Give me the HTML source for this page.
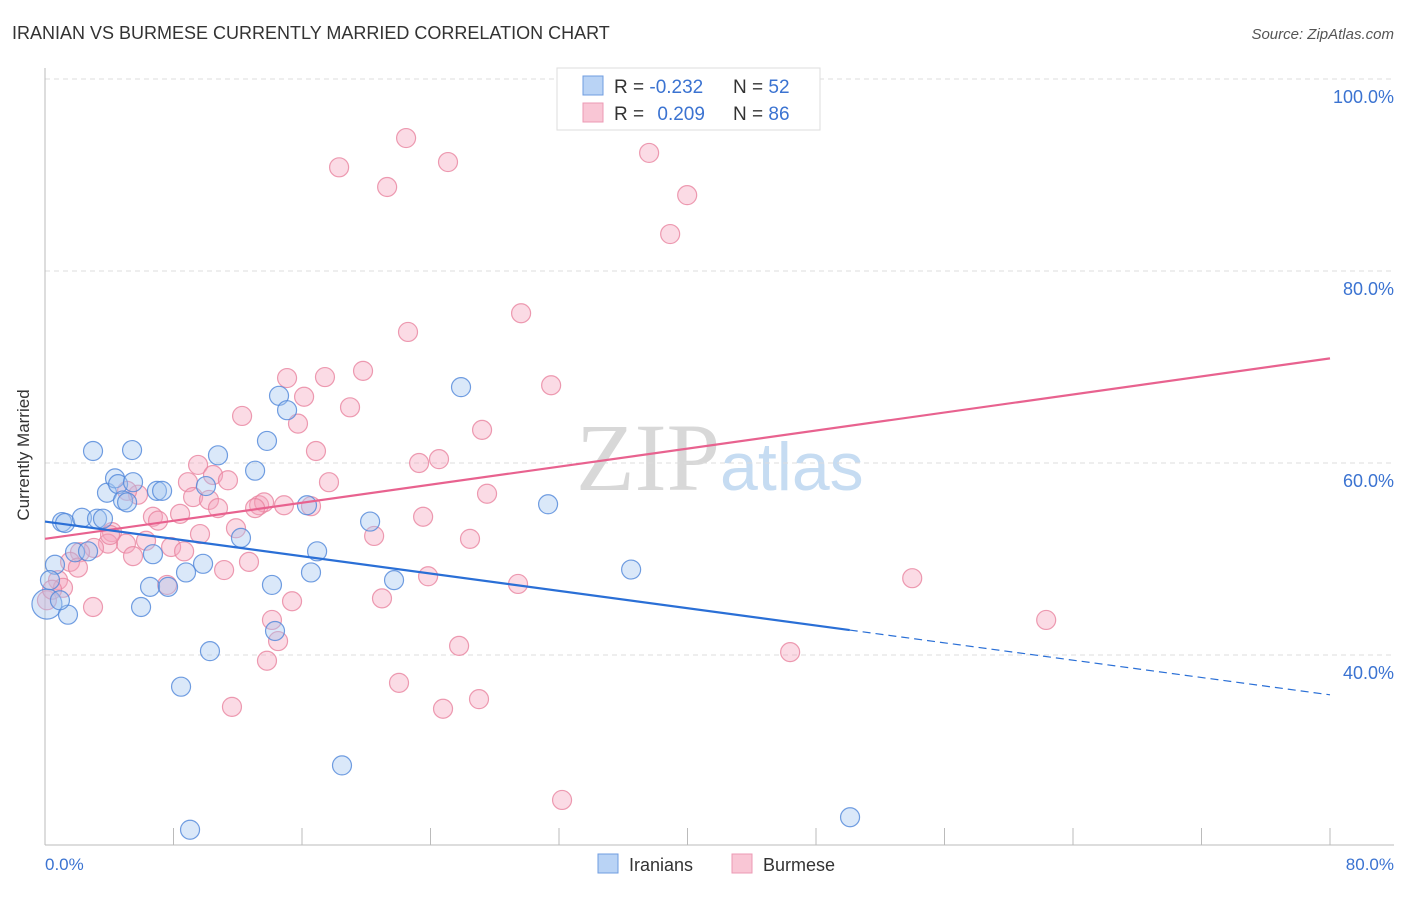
<!DOCTYPE html>
<html><head><meta charset="utf-8"><style>
body{margin:0;background:#fff;font-family:"Liberation Sans",sans-serif}
</style></head><body>
<svg id="chart" width="1406" height="892">
<text x="12" y="39" font-size="18" fill="#333">IRANIAN VS BURMESE CURRENTLY MARRIED CORRELATION CHART</text>
<text x="1394" y="39" font-size="15" fill="#555" font-style="italic" text-anchor="end">Source: ZipAtlas.com</text>
<text x="720" y="490" font-size="96" fill="#d8d8d8" text-anchor="end" font-family="Liberation Serif,serif">ZIP</text>
<text x="720" y="490" font-size="68" fill="#c6dcf2">atlas</text>
<g id="grid"></g><g id="axes"></g><g id="marks"></g>
<text x="29" y="455" font-size="17" fill="#333" transform="rotate(-90 29 455)" text-anchor="middle">Currently Married</text>
<text x="45" y="870" font-size="17" fill="#3b73d1">0.0%</text>
<text x="1394" y="870" font-size="17" fill="#3b73d1" text-anchor="end">80.0%</text>
<g>
<rect x="557" y="68" width="263" height="62" fill="#fff" stroke="#ddd"/>
<rect x="583" y="76" width="20" height="19" fill="#b9d3f5" stroke="#6f9de0"/>
<rect x="583" y="103" width="20" height="19" fill="#f9c6d5" stroke="#ec9ab4"/>
<text x="614" y="93" font-size="19" fill="#333">R = <tspan fill="#3b73d1">-0.232</tspan></text>
<text x="733" y="93" font-size="19" fill="#333">N = <tspan fill="#3b73d1">52</tspan></text>
<text x="614" y="120" font-size="19" fill="#333">R = <tspan fill="#3b73d1" dx="8">0.209</tspan></text>
<text x="733" y="120" font-size="19" fill="#333">N = <tspan fill="#3b73d1">86</tspan></text>
</g>
<g>
<rect x="598" y="854" width="20" height="19" fill="#b9d3f5" stroke="#6f9de0"/>
<text x="629" y="871" font-size="18" fill="#333">Iranians</text>
<rect x="732" y="854" width="20" height="19" fill="#f9c6d5" stroke="#ec9ab4"/>
<text x="763" y="871" font-size="18" fill="#333">Burmese</text>
</g>
</svg>
<script>
const yTicks=[40,60,80,100];
const yTickLabels=["40.0%","60.0%","80.0%","100.0%"];
const xTicks=[0,8,16,24,32,40,48,56,64,72,80];
const blueX=[2.99,5.42,0.12,0.62,1.06,1.43,1.25,1.87,2.30,2.68,3.24,3.61,3.86,4.36,4.55,4.86,5.11,5.48,6.97,7.29,6.72,6.54,5.98,7.66,8.78,8.47,9.03,9.84,10.27,10.02,10.77,12.2,13.08,13.82,14.57,15.07,14.13,14.32,16.31,16.56,16.94,18.49,20.24,21.73,25.9,31.32,36.49,50.12,0.31,0.93];
const blueY=[61.25,61.35,45.3,49.4,53.85,44.2,53.75,50.7,54.3,50.8,54.2,54.2,56.9,58.4,57.8,56.1,55.9,58.0,57.1,57.1,50.5,47.1,45.0,47.1,48.6,36.7,21.8,49.5,40.4,57.6,60.8,52.2,59.2,62.3,67.0,65.5,47.3,42.5,55.6,48.6,50.8,28.5,53.9,47.8,67.9,55.7,48.9,23.1,47.8,45.7];
const pinkX=[22.48,25.09,18.31,21.3,37.61,39.98,38.92,29.64,22.6,19.8,15.07,17.43,31.51,18.99,16.13,12.27,15.75,27.21,16.87,24.53,23.29,9.53,10.46,8.9,11.39,17.68,27.52,9.22,10.21,10.77,11.89,13.33,13.64,14.88,16.56,5.79,5.11,6.72,7.04,8.41,23.54,20.49,26.46,4.17,5.04,6.29,7.85,8.66,5.48,3.92,3.05,2.18,1.56,2.05,0.81,1.12,0.12,0.44,2.99,7.6,11.15,12.7,20.98,15.38,23.85,29.45,53.99,62.33,14.13,14.51,25.78,46.39,13.82,22.04,27.02,24.78,11.64,32.19,9.65,4.05,13.08];
const pinkY=[93.85,91.35,90.8,88.75,92.3,87.9,83.85,75.6,73.65,69.6,68.85,68.95,68.1,65.8,66.9,64.9,64.1,63.45,61.25,60.4,60.0,59.8,58.75,58.0,58.2,58.0,56.8,56.45,56.15,55.3,53.2,55.6,55.9,55.6,55.5,56.7,57.1,54.4,54.0,54.7,54.4,52.4,52.1,52.8,51.6,51.9,51.25,50.8,50.3,51.6,51.15,50.7,49.7,49.1,47.8,47.0,45.7,46.8,45.0,47.3,48.85,49.7,45.9,45.6,48.2,47.4,48.0,43.65,43.65,41.45,40.95,40.3,39.4,37.1,35.4,34.4,34.6,24.9,52.6,52.5,55.3];
const blueTrend=[53.9,-0.2256];
const pinkTrend=[52.1,0.235];
const blueSolidEnd=50.1;

const NS="http://www.w3.org/2000/svg";
const sx=v=>45+v*(1285/80);
const sy=v=>79+(100-v)*9.6;
function mk(tag,attrs,parent){const e=document.createElementNS(NS,tag);for(const k in attrs)e.setAttribute(k,attrs[k]);parent.appendChild(e);return e;}
const grid=document.getElementById('grid'),axes=document.getElementById('axes'),marks=document.getElementById('marks');
yTicks.forEach((t,i)=>{
 const l=mk('line',{x1:45,x2:1394,y1:sy(t),y2:sy(t),stroke:'#ddd','stroke-dasharray':'5,4'},grid);
 
 
 const tx=mk('text',{x:1394,y:sy(t)+24,'font-size':18,fill:'#3b73d1','text-anchor':'end'},grid);
 tx.textContent=yTickLabels[i];
 
 
});
const ax=mk('line',{x1:45,x2:45,y1:68,y2:845,stroke:'#bbb'},axes);


const bx=mk('line',{x1:45,x2:1394,y1:845,y2:845,stroke:'#bbb'},axes);


xTicks.forEach(t=>{
 const l=mk('line',{x1:sx(t),x2:sx(t),y1:828,y2:845,stroke:'#bbb'},axes);
 
 
});
function dots(xs,ys,fill,stroke,name){
 xs.forEach((x,i)=>{
  const c=mk('circle',{cx:sx(x),cy:sy(ys[i]),r:(i===2&&name==='iranian-point')?15:9.5,fill:fill,'fill-opacity':0.4,stroke:stroke,'stroke-opacity':0.8,'stroke-width':1.2},marks);
  
  
 });
}
dots(pinkX,pinkY,'#f4a6bf','#e8839f','burmese-point');
dots(blueX,blueY,'#a3c5f0','#4f86d9','iranian-point');
const pl=mk('line',{x1:sx(0),y1:sy(pinkTrend[0]),x2:sx(80),y2:sy(pinkTrend[0]+pinkTrend[1]*80),stroke:'#e8628f','stroke-width':2.2},marks);


const bl=mk('line',{x1:sx(0),y1:sy(blueTrend[0]),x2:sx(blueSolidEnd),y2:sy(blueTrend[0]+blueTrend[1]*blueSolidEnd),stroke:'#2a6fd6','stroke-width':2.2},marks);


const bd=mk('line',{x1:sx(blueSolidEnd),y1:sy(blueTrend[0]+blueTrend[1]*blueSolidEnd),x2:sx(80),y2:sy(blueTrend[0]+blueTrend[1]*80),stroke:'#2a6fd6','stroke-width':1.2,'stroke-dasharray':'8,5'},marks);


</script>
</body></html>
